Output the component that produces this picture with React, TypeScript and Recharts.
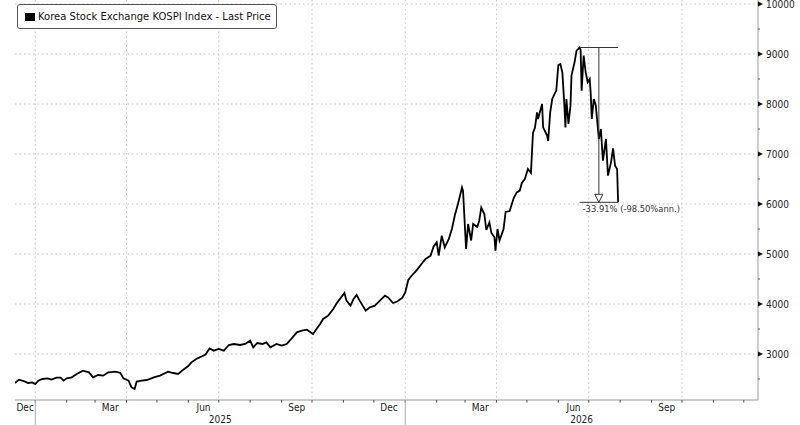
import React from "react";
import {
  LineChart,
  Line,
  XAxis,
  YAxis,
  CartesianGrid,
  ReferenceLine,
  ReferenceDot,
} from "recharts";

const DAY = 86400000;
const EPOCH = Date.UTC(2025, 0, 1);
const toDay = (s: string) => {
  const [y, m, d] = s.split("-").map(Number);
  return (Date.UTC(y, m - 1, d || 1) - EPOCH) / DAY;
};

// KOSPI last price
const DATES = [
  "2024-12-12", "2024-12-16", "2024-12-19", "2024-12-22", "2024-12-25", "2024-12-29",
  "2025-01-01", "2025-01-04", "2025-01-08", "2025-01-13", "2025-01-17", "2025-01-22",
  "2025-01-26", "2025-01-29", "2025-02-01", "2025-02-06", "2025-02-11", "2025-02-17",
  "2025-02-23", "2025-02-27", "2025-03-04", "2025-03-09", "2025-03-14", "2025-03-21",
  "2025-03-26", "2025-03-29", "2025-04-03", "2025-04-06", "2025-04-09", "2025-04-11",
  "2025-04-16", "2025-04-21", "2025-04-28", "2025-05-04", "2025-05-12", "2025-05-17",
  "2025-05-22", "2025-05-27", "2025-06-01", "2025-06-04", "2025-06-10", "2025-06-14",
  "2025-06-18", "2025-06-22", "2025-06-26", "2025-07-01", "2025-07-06", "2025-07-11",
  "2025-07-16", "2025-07-22", "2025-07-27", "2025-08-01", "2025-08-04", "2025-08-08",
  "2025-08-13", "2025-08-17", "2025-08-21", "2025-08-27", "2025-09-01", "2025-09-06",
  "2025-09-11", "2025-09-16", "2025-09-21", "2025-09-26", "2025-10-02", "2025-10-06",
  "2025-10-09", "2025-10-12", "2025-10-17", "2025-10-22", "2025-10-26", "2025-10-29",
  "2025-11-02", "2025-11-04", "2025-11-08", "2025-11-11", "2025-11-14", "2025-11-17",
  "2025-11-20", "2025-11-23", "2025-11-27", "2025-12-02", "2025-12-07", "2025-12-12",
  "2025-12-15", "2025-12-20", "2025-12-24", "2025-12-29", "2026-01-01", "2026-01-04",
  "2026-01-07", "2026-01-12", "2026-01-17", "2026-01-21", "2026-01-26", "2026-01-29",
  "2026-02-01", "2026-02-03", "2026-02-06", "2026-02-09", "2026-02-13", "2026-02-16",
  "2026-02-19", "2026-02-22", "2026-02-26", "2026-02-27", "2026-03-02", "2026-03-04",
  "2026-03-07", "2026-03-09", "2026-03-13", "2026-03-15", "2026-03-17", "2026-03-20",
  "2026-03-22", "2026-03-25", "2026-03-27", "2026-03-30", "2026-03-31", "2026-04-02",
  "2026-04-04", "2026-04-08", "2026-04-10", "2026-04-14", "2026-04-18", "2026-04-21",
  "2026-04-24", "2026-04-26", "2026-04-29", "2026-05-02", "2026-05-05", "2026-05-07",
  "2026-05-09", "2026-05-11", "2026-05-12", "2026-05-16", "2026-05-17", "2026-05-21",
  "2026-05-22", "2026-05-24", "2026-05-26", "2026-05-29", "2026-05-30", "2026-06-01",
  "2026-06-03", "2026-06-05", "2026-06-07", "2026-06-08", "2026-06-09", "2026-06-11",
  "2026-06-13", "2026-06-14", "2026-06-17", "2026-06-19", "2026-06-22", "2026-06-23",
  "2026-06-24", "2026-06-26", "2026-06-28", "2026-06-30", "2026-07-02", "2026-07-03",
  "2026-07-04", "2026-07-06", "2026-07-08", "2026-07-11", "2026-07-13", "2026-07-15",
  "2026-07-18", "2026-07-20", "2026-07-23", "2026-07-25", "2026-07-27", "2026-07-29",
  "2026-07-30",
];

const PRICES = [
  2420, 2487, 2467, 2447, 2420, 2433,
  2400, 2467, 2500, 2513, 2487, 2527,
  2527, 2467, 2513, 2533, 2600, 2667,
  2633, 2533, 2580, 2567, 2633, 2647,
  2620, 2513, 2467, 2333, 2300, 2447,
  2467, 2480, 2533, 2567, 2647, 2620,
  2600, 2687, 2760, 2833, 2913, 2950,
  2990, 3113, 3067, 3100, 3067, 3180,
  3200, 3180, 3200, 3267, 3133, 3220,
  3200, 3233, 3133, 3200, 3167, 3200,
  3313, 3433, 3467, 3487, 3400, 3513,
  3600, 3700, 3767, 3900, 4033, 4113,
  4220, 4067, 3967, 4100, 4180, 4067,
  3967, 3867, 3933, 3967, 4067, 4167,
  4133, 4020, 4050, 4120, 4233, 4480,
  4560, 4667, 4800, 4900, 4967, 5150,
  5233, 4970, 5367, 5133, 5300, 5500,
  5780, 6000, 6330, 6260, 5100, 5600,
  5270, 5600, 5540, 5667, 5930, 5800,
  5480, 5633, 5420, 5333, 5067, 5500,
  5270, 5500, 5840, 5860, 6120, 6233,
  6267, 6420, 6500, 6700, 6620, 7420,
  7530, 7833, 7700, 8000, 7533, 7367,
  7260, 7833, 8100, 8233, 8267, 8780,
  8800, 8633, 7967, 7533, 8100, 7600,
  7967, 8567, 8833, 9067, 9130, 9080,
  8267, 8967, 8633, 8433, 8500, 8200,
  7700, 8100, 7967, 7300, 7500, 6867,
  7300, 6567, 6833, 7113, 6767, 6700,
  6034,
];

const SERIES_NAME = "Korea Stock Exchange KOSPI Index - Last Price";
const DRAWDOWN_LABEL = "-33.91% (-98.50%ann.)";

const MONTH_LABELS = ["Dec", "Mar", "Jun", "Sep", "Dec", "Mar", "Jun", "Sep"];
const LABEL_MONTHS = ["2024-12", "2025-03", "2025-06", "2025-09", "2025-12", "2026-03", "2026-06", "2026-09"];
const YEAR_LABELS = ["2025", "2026"];
const Y_MAJOR = [3000, 4000, 5000, 6000, 7000, 8000, 9000, 10000];
const Y_MINOR = [2500, 3500, 4500, 5500, 6500, 7500, 8500, 9500];

const START = toDay("2024-12-12");
const END = toDay("2026-12-15");
const Y_DOMAIN = [2080, 10080];

const data = DATES.map((d, i) => ({ d: toDay(d), v: PRICES[i] }));

// drawdown annotation from the series itself
const peakIdx = PRICES.indexOf(Math.max(...PRICES));
const PEAK_D = data[peakIdx].d;
const PEAK_V = PRICES[peakIdx];
const END_D = data[data.length - 1].d;
const LAST_V = PRICES[PRICES.length - 1];
const MID_D = (PEAK_D + END_D) / 2;

const monthStarts: number[] = [];
for (const y of [2025, 2026]) {
  for (let m = 1; m <= 12; m++) monthStarts.push(toDay(`${y}-${String(m).padStart(2, "0")}-01`));
}
const quarterStarts = monthStarts.filter((_, i) => i % 3 === 0);
const yearStarts = monthStarts.filter((_, i) => i % 12 === 0);

const labelTicks = LABEL_MONTHS.map((m) => Math.max(toDay(m + "-01") + 15, START + 10));
const yearMids = [(yearStarts[0] + yearStarts[1]) / 2, (yearStarts[1] + END) / 2];

const X_TICKS = [...monthStarts, ...labelTicks, ...yearMids];

const FONT = "'DejaVu Sans Condensed', 'DejaVu Sans', sans-serif";

const XTick = (props: any) => {
  const { x, y, payload } = props;
  const v = payload.value;
  const li = labelTicks.indexOf(v);
  const yi = yearMids.indexOf(v);
  if (li >= 0) {
    return (
      <text x={x} y={y + 11} textAnchor="middle" fontSize={10} fontFamily={FONT} fill="#222">
        {MONTH_LABELS[li]}
      </text>
    );
  }
  if (yi >= 0) {
    return (
      <text x={x} y={y + 23} textAnchor="middle" fontSize={10} fontFamily={FONT} fill="#222">
        {YEAR_LABELS[yi]}
      </text>
    );
  }
  return (
    <g>
      <line x1={x} x2={x} y1={y} y2={y + 2.5} stroke="#444" strokeWidth={1} />
      {yearStarts.includes(v) && <line x1={x} x2={x} y1={y} y2={y + 25} stroke="#aaa" strokeWidth={1} />}
    </g>
  );
};

const YTick = (props: any) => {
  const { x, y, payload } = props;
  const v = payload.value;
  if (Y_MAJOR.includes(v)) {
    return (
      <g>
        <path d={`M${x},${y - 2.5} L${x + 5},${y} L${x},${y + 2.5} Z`} fill="#111" />
        <text x={x + 8} y={y + 3.6} fontSize={10} fontFamily={FONT} fill="#222">
          {v}
        </text>
      </g>
    );
  }
  return <line x1={x} x2={x + 2} y1={y} y2={y} stroke="#555" strokeWidth={1} />;
};

export default function App() {
  return (
    <div style={{ position: "absolute", left: 0, top: 0, width: 800, height: 425, background: "#fff" }}>
      <LineChart width={800} height={425} data={data} margin={{ top: 0, right: 0, bottom: 0, left: 15 }}>
        <CartesianGrid
          horizontalValues={Y_MAJOR}
          verticalValues={quarterStarts}
          stroke="#c4c4c4"
          strokeDasharray="1.5 3"
        />
        <XAxis
          dataKey="d"
          type="number"
          domain={[START, END]}
          allowDataOverflow
          ticks={X_TICKS}
          interval={0}
          tickLine={false}
          tickSize={0}
          tickMargin={0}
          height={25}
          axisLine={{ stroke: "#999" }}
          tick={(p: any) => <XTick {...p} />}
        />
        <YAxis
          orientation="right"
          type="number"
          domain={Y_DOMAIN}
          allowDataOverflow
          ticks={[...Y_MINOR, ...Y_MAJOR]}
          interval={0}
          tickLine={false}
          tickSize={0}
          tickMargin={0}
          width={42}
          axisLine={{ stroke: "#999" }}
          tick={(p: any) => <YTick {...p} />}
        />
        <Line
          dataKey="v"
          type="linear"
          stroke="#000"
          strokeWidth={1.8}
          dot={false}
          isAnimationActive={false}
        />
        <ReferenceLine
          segment={[{ x: PEAK_D, y: PEAK_V }, { x: END_D, y: PEAK_V }]}
          stroke="#333"
          strokeWidth={1}
        />
        <ReferenceLine
          segment={[{ x: PEAK_D, y: LAST_V }, { x: END_D, y: LAST_V }]}
          stroke="#333"
          strokeWidth={1}
        />
        <ReferenceLine
          segment={[{ x: MID_D, y: PEAK_V }, { x: MID_D, y: LAST_V }]}
          stroke="#333"
          strokeWidth={1}
        />
        <ReferenceDot
          x={MID_D}
          y={LAST_V}
          r={4}
          shape={(p: any) => (
            <polygon
              points={`${p.cx - 4},${p.cy - 8} ${p.cx + 4},${p.cy - 8} ${p.cx},${p.cy}`}
              fill="#fff"
              stroke="#333"
              strokeWidth={1}
            />
          )}
        />
        <ReferenceDot
          x={PEAK_D}
          y={LAST_V}
          r={1}
          shape={(p: any) => (
            <text x={p.cx + 3} y={p.cy + 10} fontSize={9.3} fontFamily={FONT} fill="#333">
              {DRAWDOWN_LABEL}
            </text>
          )}
        />
      </LineChart>
      <div
        style={{
          position: "absolute",
          left: 17,
          top: 4,
          width: 258,
          height: 23,
          border: "1px solid #555",
          borderRadius: 3,
          background: "#fff",
          display: "flex",
          alignItems: "center",
          fontFamily: "'DejaVu Sans', sans-serif",
          fontSize: 10,
          color: "#111",
        }}
      >
        <span style={{ display: "inline-block", width: 10, height: 8, background: "#000", marginLeft: 7, marginRight: 3 }} />
        <span>{SERIES_NAME}</span>
      </div>
    </div>
  );
}
